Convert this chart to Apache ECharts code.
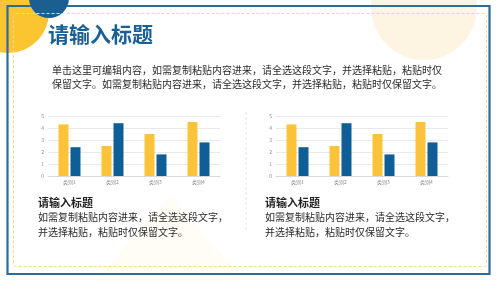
<!DOCTYPE html>
<html><head><meta charset="utf-8">
<script src="https://cdn.jsdelivr.net/npm/echarts@6/dist/echarts.min.js"></script>
<style>html,body{margin:0;padding:0;background:#fff}#c{width:500px;height:281px}</style>
</head><body><div id="c"></div>
<script>
var categories = ['类别1','类别2','类别3','类别4'];
var series1 = [4.3, 2.5, 3.5, 4.5];
var series2 = [2.4, 4.4, 1.8, 2.8];
var yTicks = [0,1,2,3,4,5];
var titleText = '请输入标题';
var introLine1 = '单击这里可编辑内容，如需复制粘贴内容进来，请全选这段文字，并选择粘贴，粘贴时仅';
var introLine2 = '保留文字。如需复制粘贴内容进来，请全选这段文字，并选择粘贴，粘贴时仅保留文字。';
var subTitle = '请输入标题';
var subLine1 = '如需复制粘贴内容进来，请全选这段文字，';
var subLine2 = '并选择粘贴，粘贴时仅保留文字。';

var FONT = '"Noto Sans CJK SC", sans-serif';
var YEL = '#fbc33a', BLU = '#0f5e96';

function grid(left, width){ return {left:left, width:width, top:116, height:60}; }
function xAx(i){ return {type:'category', gridIndex:i, data:categories,
  axisLine:{lineStyle:{color:'#d9d9d9'}}, axisTick:{show:false},
  axisLabel:{fontSize:5, color:'#8a8a8a', margin:4, fontFamily:FONT}}; }
function yAx(i){ return {type:'value', gridIndex:i, min:yTicks[0], max:yTicks[yTicks.length-1], interval:1,
  axisLine:{show:false}, axisTick:{show:false},
  axisLabel:{fontSize:5, color:'#8a8a8a', margin:4, fontFamily:FONT},
  splitLine:{lineStyle:{color:'#e8e8e8', width:1}}}; }
function bars(i){ return [
  {type:'bar', xAxisIndex:i, yAxisIndex:i, data:series1, barWidth:10, barGap:'20%', itemStyle:{color:YEL}},
  {type:'bar', xAxisIndex:i, yAxisIndex:i, data:series2, barWidth:10, barGap:'20%', itemStyle:{color:BLU}}
]; }
function txt(x,y,t,size,color,weight){ return {type:'text', left:x, top:y, z:10,
  style:{text:t, fontSize:size, fill:color, fontWeight:weight||'normal', fontFamily:FONT}}; }

var chart = echarts.init(document.getElementById('c'), null, {renderer:'canvas'});
chart.setOption({
  animation:false,
  grid:[grid(48,172), grid(276,172)],
  xAxis:[xAx(0), xAx(1)],
  yAxis:[yAx(0), yAx(1)],
  series: bars(0).concat(bars(1)),
  graphic:[
    {type:'polygon', shape:{points:[[95,281],[170,195],[245,281]]}, style:{fill:'#fffdf6'}, z:-10},
    {type:'circle', shape:{cx:8, cy:12, r:41}, style:{fill:'#fbc531'}, z:-5},
    {type:'circle', shape:{cx:424, cy:7, r:53}, style:{fill:'#fdf5e2'}, z:-5},
    {type:'rect', shape:{x:7.5, y:6, width:482, height:268}, style:{fill:null, stroke:'#2c6c99', lineWidth:2.2}, z:-4},
    {type:'circle', shape:{cx:49, cy:-2, r:20}, style:{fill:'#1b5e92'}, z:-3},
    {type:'rect', shape:{x:13.5, y:13.5, width:473, height:253, r:3}, style:{fill:null, stroke:'#f5dc8c', lineWidth:1, lineDash:[3,2]}, z:-3},
    {type:'line', shape:{x1:246, y1:112, x2:246, y2:230}, style:{stroke:'#dfe6ec', lineWidth:1, lineDash:[3,2]}, z:-3},
    {type:'text', left:48, top:24, z:10, style:{text:titleText, fontSize:21, fill:'#1b5f96', fontWeight:'bold', fontFamily:FONT}},
    txt(52,65,introLine1,10,'#2a2a2a'),
    txt(52,79,introLine2,10,'#2a2a2a'),
    txt(38,197,subTitle,11,'#222','bold'),
    txt(38,212,subLine1,10,'#2a2a2a'),
    txt(38,227,subLine2,10,'#2a2a2a'),
    txt(265,197,subTitle,11,'#222','bold'),
    txt(265,212,subLine1,10,'#2a2a2a'),
    txt(265,227,subLine2,10,'#2a2a2a')
  ]
});
</script></body></html>
